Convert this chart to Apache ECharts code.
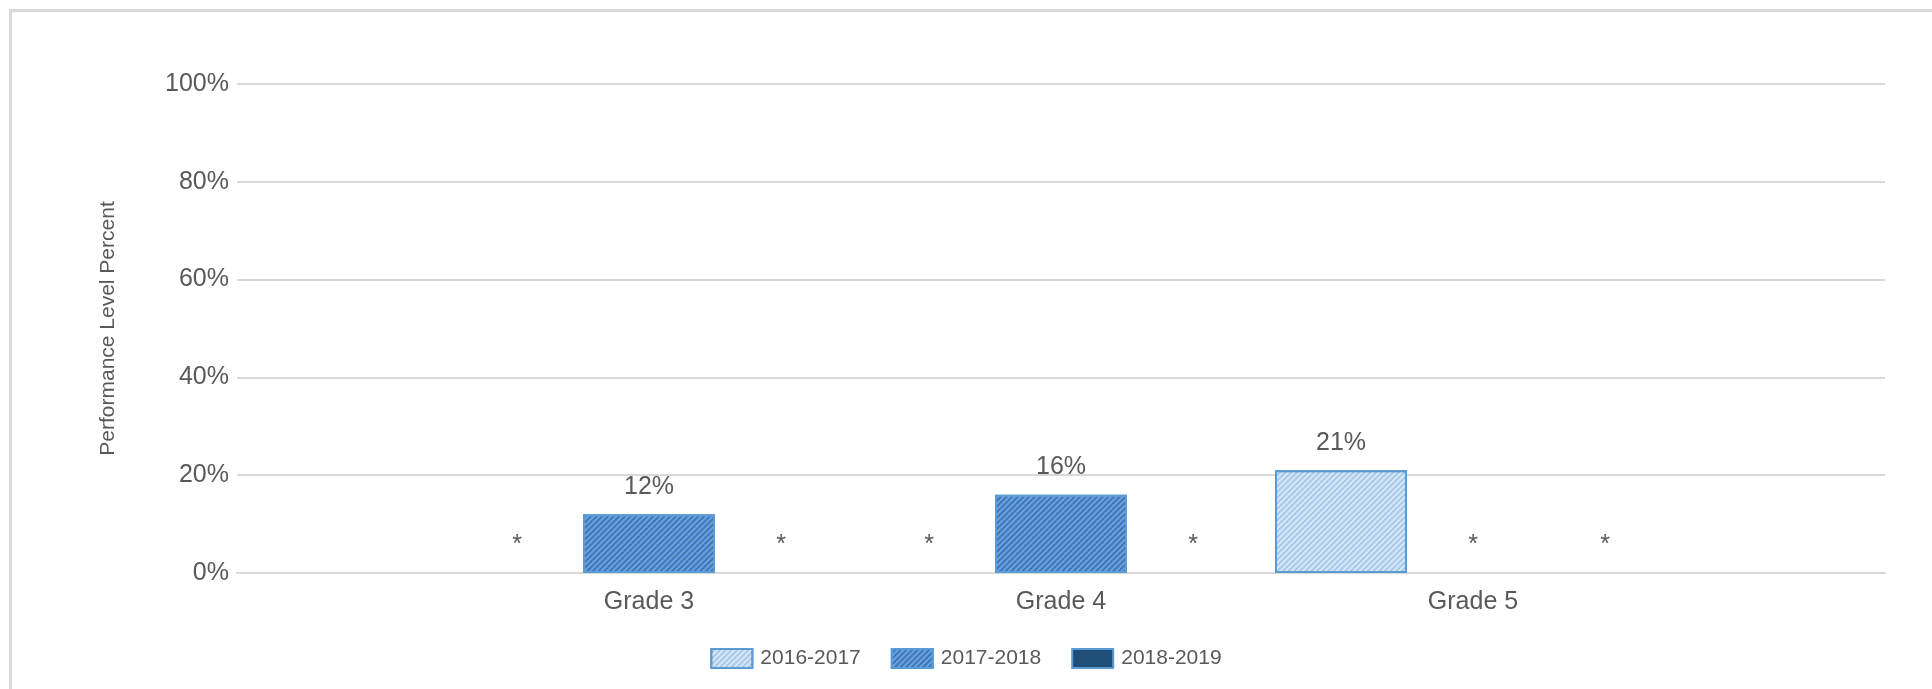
<!DOCTYPE html>
<html>
<head>
<meta charset="utf-8">
<style>
  html, body { margin: 0; padding: 0; background: #fff; }
  #chart { width: 1932px; height: 689px; }
</style>
<script src="https://cdn.jsdelivr.net/npm/echarts@6/dist/echarts.min.js"></script>
</head>
<body>
<div id="chart"></div>
<script>
var grades = ['Grade 3', 'Grade 4', 'Grade 5'];
var years = ['2016-2017', '2017-2018', '2018-2019'];
// null = suppressed value, shown as "*"
var y2016 = [null, null, 21];
var y2017 = [12, 16, null];
var y2018 = [null, null, null];
var yTicks = [0, 20, 40, 60, 80, 100];

var fnt = 'Arial, "Liberation Sans", sans-serif';
var txt = '#595959';

// empty slots either side so the groups sit on the grid like the original
var cats = [''].concat(grades, ['']);

function stripes(c) {
  return { symbol: 'rect', symbolSize: 1, dashArrayX: [1, 0], dashArrayY: [1.5, 1.8], rotation: -Math.PI / 4, color: c };
}

var looks = [
  { color: '#a9c9ea', decal: stripes('rgba(255,255,255,0.55)') },
  { color: '#3878c2', decal: stripes('rgba(180,208,238,0.45)') },
  { color: '#1f4e79', decal: null }
];

function makeSeries(name, vals, look) {
  var d = vals.map(function (v) {
    if (v == null) {
      return {
        value: 0,
        itemStyle: { color: 'rgba(0,0,0,0)', borderWidth: 0, decal: null },
        label: { formatter: '*' }
      };
    }
    return v;
  });
  var itemStyle = { color: look.color, borderColor: '#5b9bd5', borderWidth: 2 };
  if (look.decal) itemStyle.decal = look.decal;
  return {
    name: name,
    type: 'bar',
    barWidth: 132,
    barGap: '0%',
    data: ['-'].concat(d, ['-']),
    itemStyle: itemStyle,
    label: {
      show: true, position: 'top', distance: 15,
      fontFamily: fnt, fontSize: 25, color: txt,
      formatter: function (p) { return p.value + '%'; }
    }
  };
}

var chart = echarts.init(document.getElementById('chart'));
chart.setOption({
  animation: false,
  graphic: [{
    type: 'rect',
    shape: { x: 10.5, y: 10.5, width: 3000, height: 3000 },
    style: { fill: 'none', stroke: '#d9d9d9', lineWidth: 3 },
    silent: true
  }],
  legend: {
    data: years,
    icon: 'rect',
    left: 'center',
    top: 643,
    itemWidth: 41,
    itemHeight: 19,
    itemGap: 30,
    textStyle: { fontFamily: fnt, fontSize: 21, color: txt, padding: [0, 0, 0, 3] }
  },
  grid: { left: 237, right: 47, top: 84, bottom: 116 },
  xAxis: {
    type: 'category',
    data: cats,
    boundaryGap: false,
    axisTick: { show: false },
    axisLine: { lineStyle: { color: '#d9d9d9', width: 2 } },
    axisLabel: { interval: 0, margin: 17, fontFamily: fnt, fontSize: 25, color: txt }
  },
  yAxis: {
    type: 'value',
    min: yTicks[0],
    max: yTicks[yTicks.length - 1],
    interval: yTicks[1] - yTicks[0],
    name: 'Performance Level Percent',
    nameLocation: 'middle',
    nameGap: 118,
    nameTextStyle: { fontFamily: fnt, fontSize: 21, color: txt },
    axisLine: { show: false },
    axisTick: { show: false },
    splitLine: { lineStyle: { color: '#d9d9d9', width: 2 } },
    axisLabel: { margin: 8, fontFamily: fnt, fontSize: 25, color: txt, formatter: '{value}%' }
  },
  series: [
    makeSeries(years[0], y2016, looks[0]),
    makeSeries(years[1], y2017, looks[1]),
    makeSeries(years[2], y2018, looks[2])
  ]
});
</script>
</body>
</html>
